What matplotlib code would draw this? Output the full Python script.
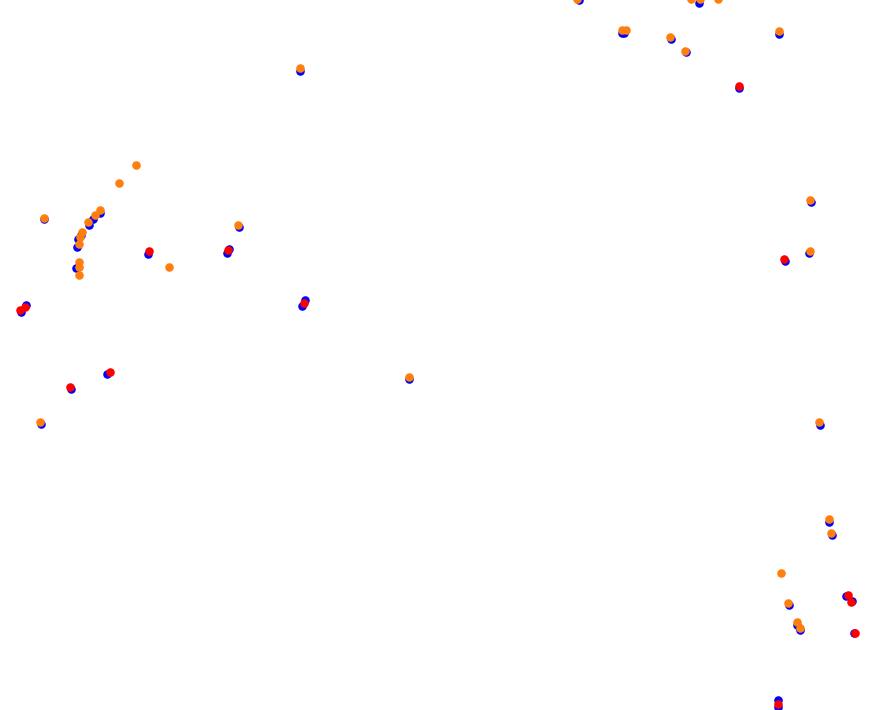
import matplotlib
matplotlib.use("Agg")
import matplotlib.pyplot as plt

# blue points (drawn first, underneath)
blue_x = [44, 100, 93, 89, 81, 78, 77, 76, 148, 229, 227, 239, 300, 305, 302, 409,
          26, 21, 107, 71, 41, 579, 699, 622, 624, 671, 686, 779, 739,
          811, 809, 785, 820, 829, 832, 846, 852, 789, 800, 797, 854, 778, 778]
blue_y = [219, 213, 219, 225, 235, 239, 247, 268, 254, 249, 253, 227, 71, 300, 306, 379,
          305, 312, 374, 389, 424, 0, 3, 33, 33, 39, 52, 34, 88,
          202, 253, 261, 425, 522, 535, 596, 601, 605, 630, 625, 633, 700, 707]

# red points
red_x = [149, 228, 304, 20, 25, 110, 70, 739, 784, 848, 851, 855, 778]
red_y = [251, 250, 303, 310, 307, 372, 387, 86, 259, 595, 602, 633, 704]

# orange points
orange_x = [136, 119, 44, 100, 95, 88, 82, 80, 79, 79, 79, 79, 238, 169, 300, 409, 40,
            577, 691, 700, 718, 622, 626, 670, 685, 779,
            810, 810, 819, 829, 831, 781, 788, 797, 800]
orange_y = [165, 183, 218, 210, 215, 222, 232, 237, 244, 262, 267, 275, 225, 267, 68, 377, 422,
            -1, -1, -1, -1, 30, 30, 37, 51, 31,
            200, 251, 422, 519, 533, 573, 603, 622, 628]

fig = plt.figure(figsize=(8.75, 7.1), dpi=100)
ax = fig.add_axes([0, 0, 1, 1])
ax.scatter(blue_x, blue_y, s=38, color='#0000ff', linewidths=0)
ax.scatter(red_x, red_y, s=38, color='#ff0000', linewidths=0)
ax.scatter(orange_x, orange_y, s=38, color='#ff7f0e', linewidths=0)
ax.set_xlim(0, 875)
ax.set_ylim(710, 0)
ax.axis('off')
fig.savefig('out.png', dpi=100, facecolor='white')
